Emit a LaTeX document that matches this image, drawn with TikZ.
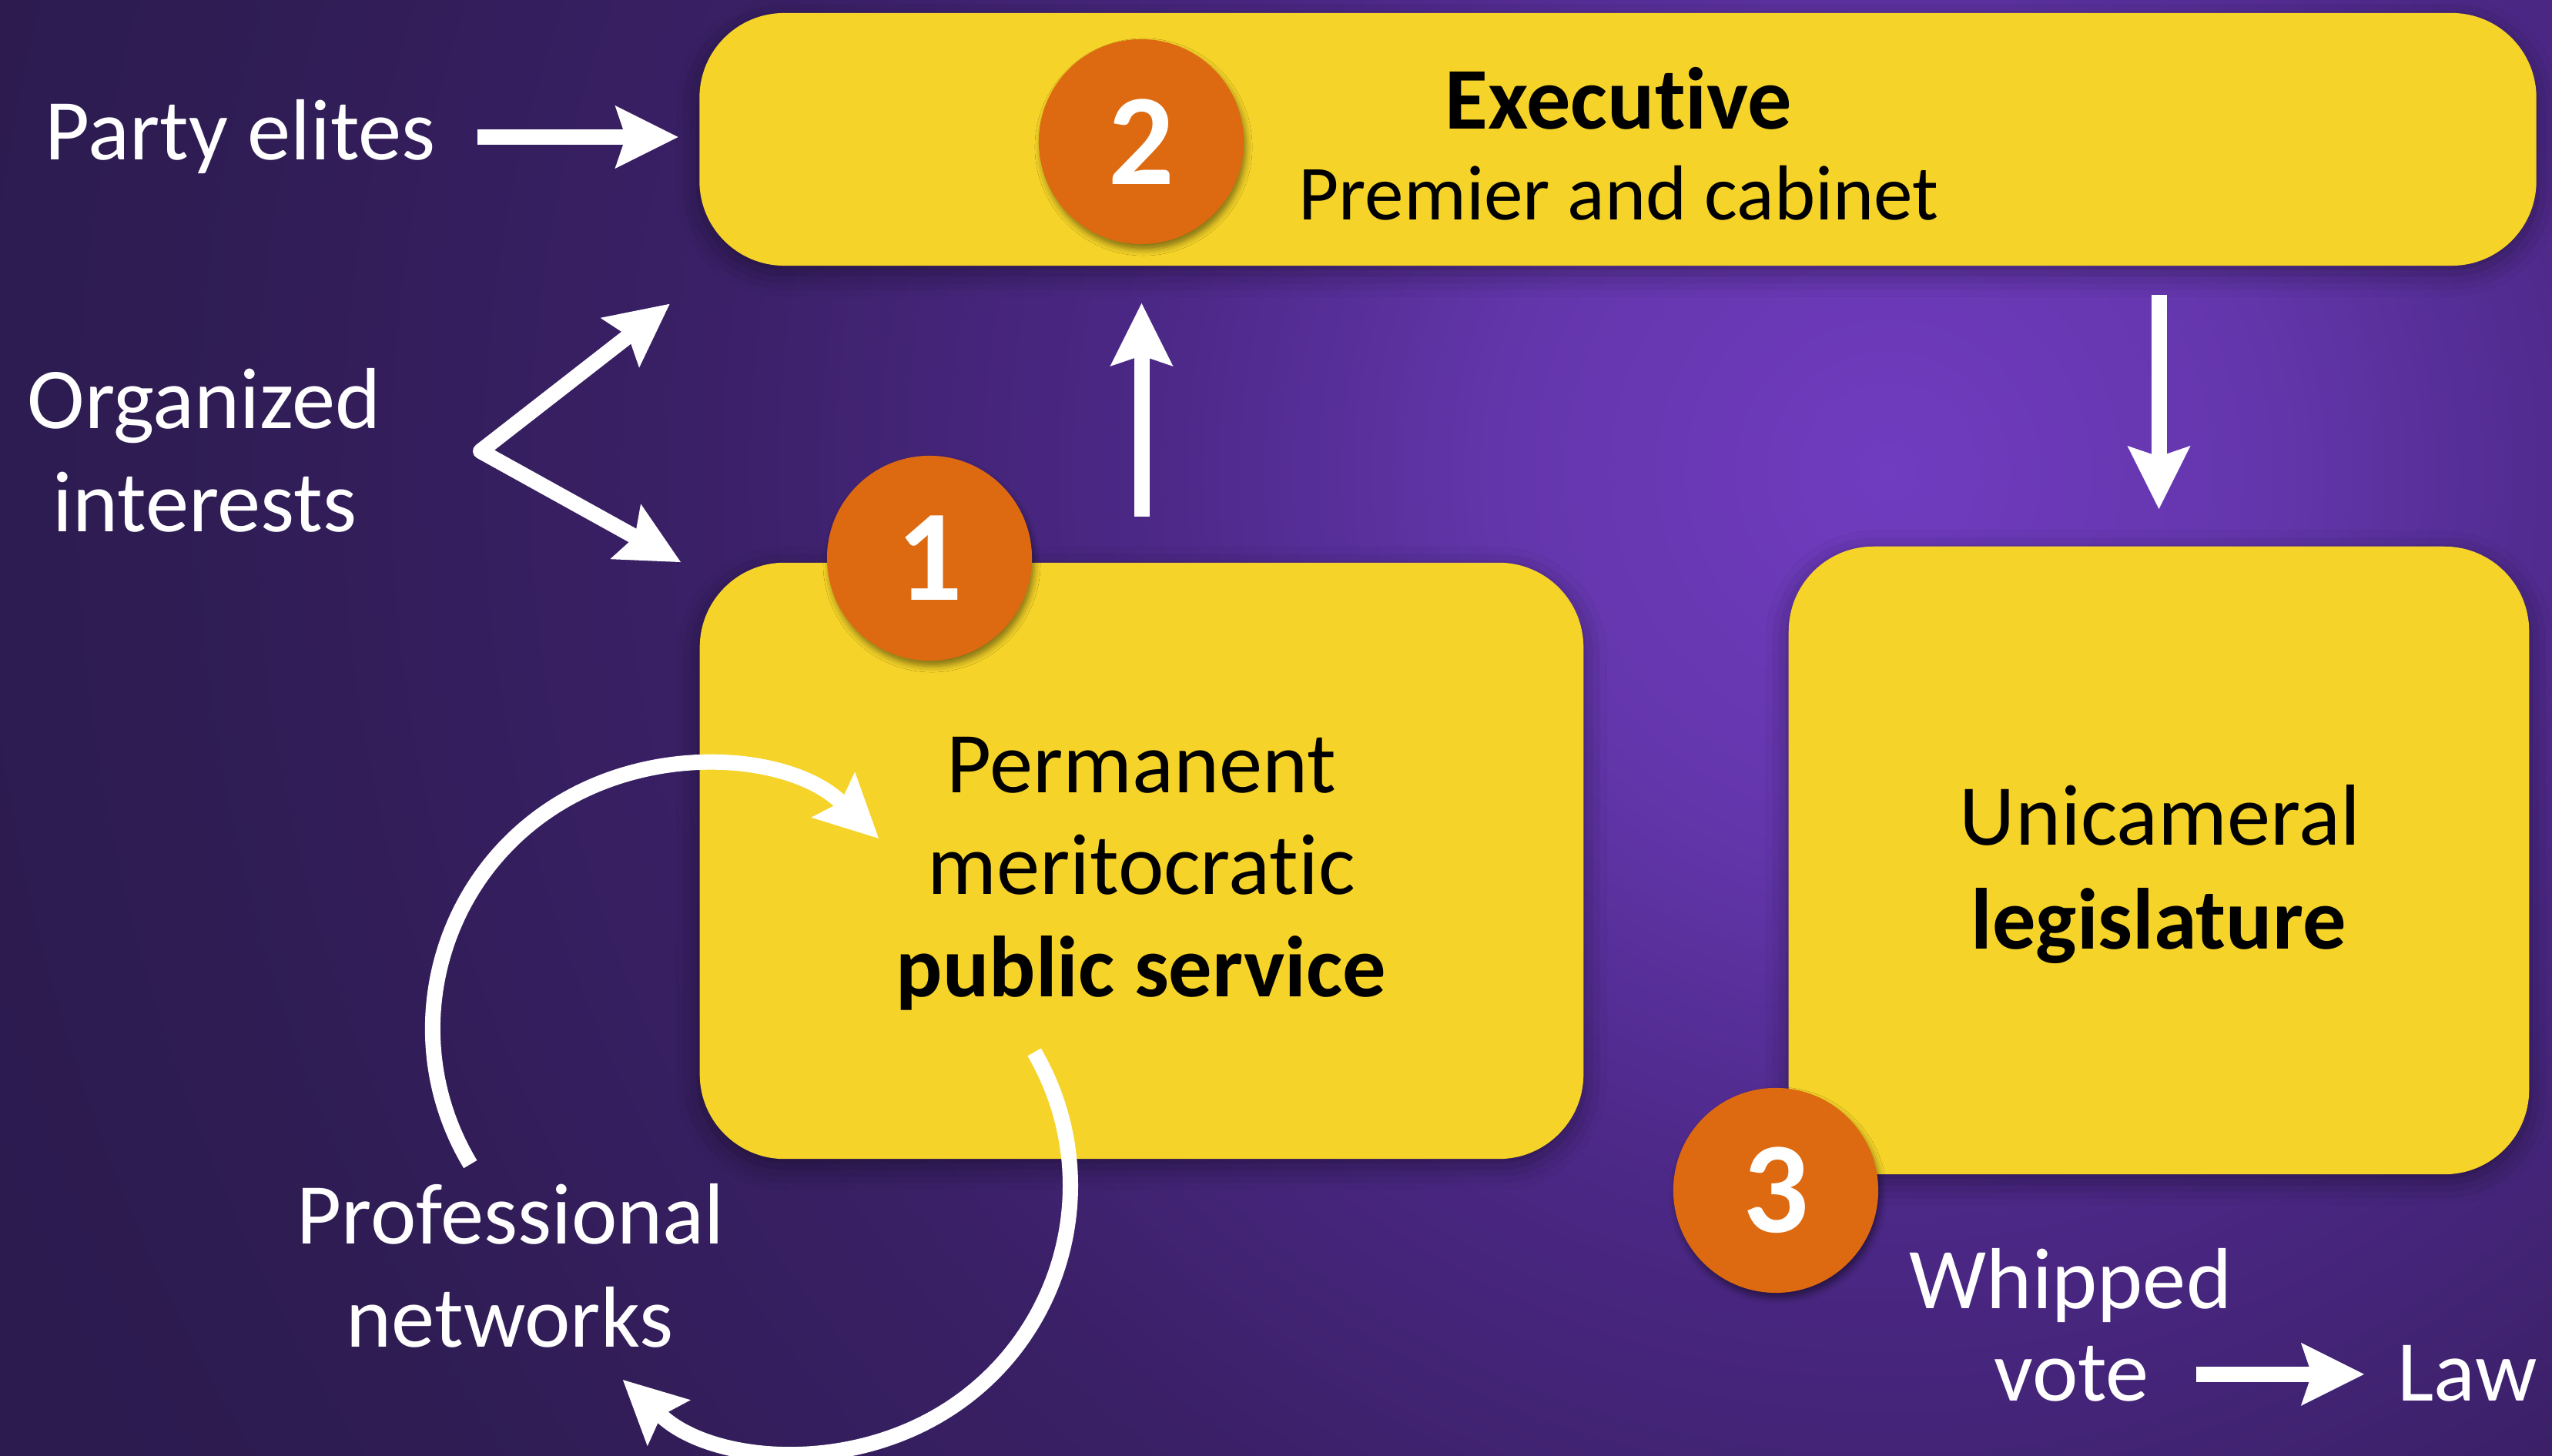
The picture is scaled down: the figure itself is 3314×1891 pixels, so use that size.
\documentclass[tikz,border=0pt]{standalone}
\usepackage{fontspec}
\setmainfont{Carlito}[Ligatures=NoCommon]
\usetikzlibrary{arrows.meta,shadows.blur}

\definecolor{panelyellow}{RGB}{245,211,40}
\definecolor{badgeorange}{RGB}{221,106,16}

% violet glow behind the diagram, brightest right of centre
% (25bp of the shading corresponds to the radius of the shaded circle)
\pgfdeclareradialshading{bgglow}{\pgfpoint{0bp}{0bp}}{%
  rgb(0bp)=(0.44,0.235,0.753);
  rgb(4bp)=(0.392,0.212,0.675);
  rgb(8bp)=(0.298,0.157,0.529);
  rgb(13bp)=(0.227,0.125,0.4);
  rgb(19bp)=(0.18,0.11,0.322);
  rgb(25bp)=(0.165,0.102,0.298);
  rgb(50bp)=(0.165,0.102,0.298)}

\tikzset{
  panel/.style={rectangle, fill=panelyellow, rounded corners=1.1cm, inner sep=0pt,
    blur shadow={shadow xshift=0cm, shadow yshift=-0.1cm, shadow blur radius=0.3cm, shadow opacity=40}},
  badge/.style={circle, fill=badgeorange, minimum size=2.66cm, inner sep=0pt, text=white,
    font=\bfseries\fontsize{48}{48}\selectfont,
    blur shadow={shadow xshift=0.03cm, shadow yshift=-0.07cm, shadow blur radius=0.08cm, shadow opacity=45}},
  lightlabel/.style={text=white, inner sep=0pt, font=\fontsize{32}{38}\selectfont},
  darklabel/.style={text=black, inner sep=0pt, font=\fontsize{32}{38}\selectfont},
  >={Stealth[length=0.82cm, width=0.82cm, inset=0.14cm, line width=0pt]},
  flow/.style={draw=white, line width=0.2cm, ->},
}

\begin{document}
\begin{tikzpicture}[x=0.01cm, y=0.01cm]
  \useasboundingbox (0,0) rectangle (3314,1891);

  % background
  \begin{scope}
    \clip (0,0) rectangle (3314,1891);
    \shade[shading=bgglow] (2452,1278) circle[radius=30cm];
  \end{scope}

  % the three institutions
  \node[panel, minimum width=23.84cm, minimum height=3.28cm] (exec) at (2101,1710) {};
  \node[panel, minimum width=11.47cm, minimum height=7.74cm] (pub) at (1482.5,773) {};
  \node[panel, minimum width=9.61cm, minimum height=8.15cm] (leg) at (2803.5,773.5) {};

  % outside actors
  \node[lightlabel, anchor=base] (party) at (312,1683) {Party elites};
  \node[lightlabel, anchor=base] (orgA) at (265,1334) {Organized};
  \node[lightlabel, anchor=base] (orgB) at (266,1200) {interests};
  \node[lightlabel, anchor=base] (profA) at (663,275) {Professional};
  \node[lightlabel, anchor=base] (profB) at (662,141) {networks};
  \node[lightlabel, anchor=base] (whip) at (2689,191) {Whipped};
  \node[lightlabel, anchor=base] (vote) at (2690,71) {vote};
  \node[lightlabel, anchor=base west] (law) at (3113,71) {Law};

  % panel texts
  \node[darklabel, anchor=base, font=\bfseries\fontsize{32.5}{39}\selectfont] (execA) at (2102,1723) {Executive};
  \node[darklabel, anchor=base, font=\fontsize{28.8}{34}\selectfont] (execB) at (2102,1605) {Premier and cabinet};
  \node[darklabel, anchor=base] (pubA) at (1482,861) {Permanent};
  \node[darklabel, anchor=base] (pubB) at (1482,729) {meritocratic};
  \node[darklabel, anchor=base, font=\bfseries\fontsize{32}{38}\selectfont] (pubC) at (1482,596) {public service};
  \node[darklabel, anchor=base] (legA) at (2805,793) {Unicameral};
  \node[darklabel, anchor=base, font=\bfseries\fontsize{32}{38}\selectfont] (legB) at (2803,658) {legislature};

  % straight connectors
  \draw[flow] ([xshift=0.54cm]party.east) -- ([xshift=-0.27cm]party.east -| exec.west);
  \coordinate (fork) at (624,1305);
  \draw[draw=white, line width=0.2cm, <->, line join=round]
    ([shift={(-0.38cm,-0.49cm)}]exec.south west) -- (fork) -- ([xshift=-0.24cm]pub.north west);
  \draw[flow, shorten <=0.59cm, shorten >=0.48cm] (pub.north) -- (pub.north |- exec.south);
  \draw[flow, shorten <=0.37cm, shorten >=0.48cm] (leg.north |- exec.south) -- (leg.north);
  \draw[flow, shorten <=0.6cm, shorten >=0.43cm] (vote.east) -- (vote.east -| law.west);

  % exchange loop between the public service and professional networks
  \coordinate (loopin) at (610.8,378.9);
  \coordinate (loopout) at (1343.1,524.5);
  \draw[flow] (loopin) arc[start angle=211, end angle=46.2, radius=3.42cm];
  \draw[flow] (loopout) arc[start angle=30.2, end angle=-133.1, radius=3.45cm];

  % numbered badges
  \node[badge] (n1) at (1207,1166) {1};
  \node[badge] (n2) at (1482,1707) {2};
  \node[badge] (n3) at (2306,345) {3};
\end{tikzpicture}
\end{document}
